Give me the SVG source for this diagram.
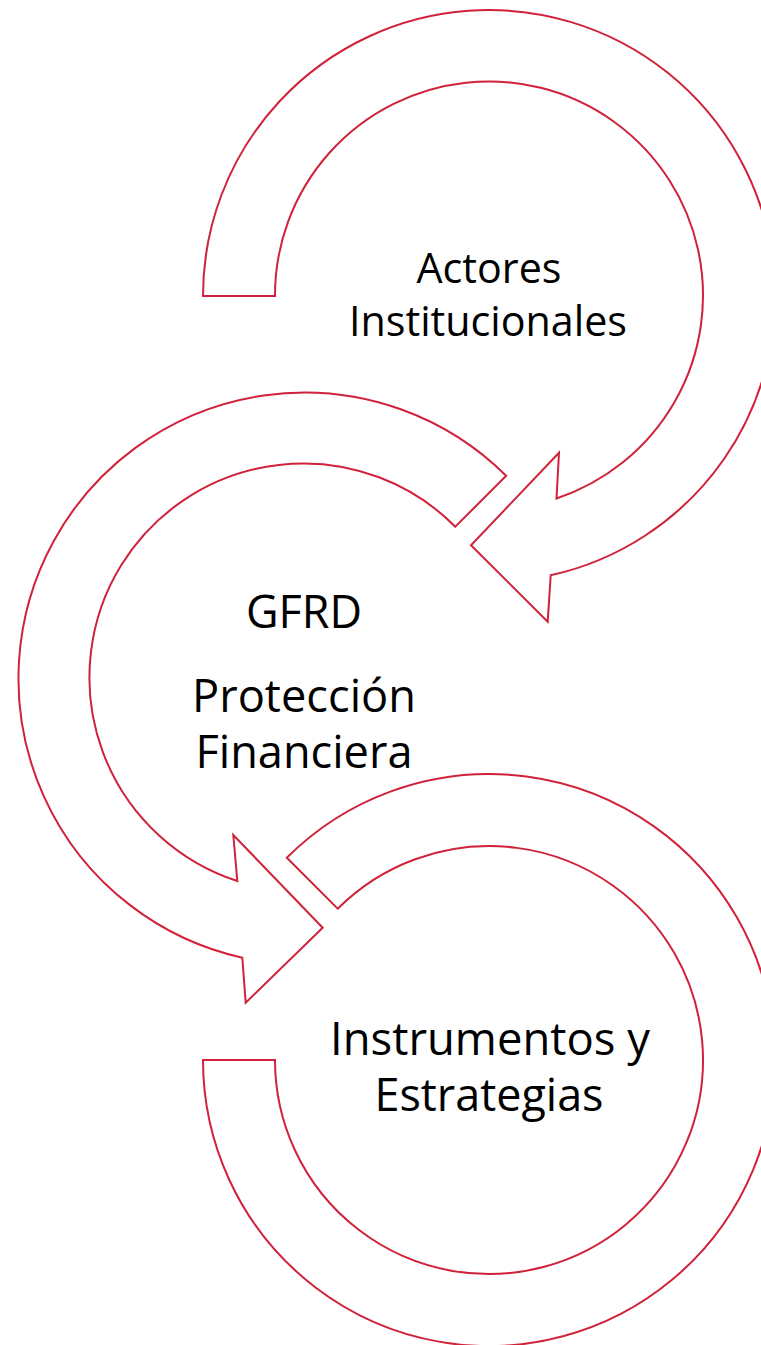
<svg xmlns="http://www.w3.org/2000/svg" width="761" height="1345" viewBox="0 0 761 1345">
  <style>
    .arr { fill: #FFFFFF; stroke: #D0223A; stroke-width: 2; stroke-linejoin: miter; }
    .lbl { font-family: "Open Sans", "Liberation Sans", sans-serif; fill: #000000; text-anchor: middle; }
    .s1 { font-size: 42px; }
    .s2 { font-size: 46px; }
  </style>
  <rect width="761" height="1345" fill="#FFFFFF"/>
  <g id="connectors">
    <path id="arrow-bottom" class="arr" d="M 286.8,857.8 A 286 286 0 1 1 203,1060 L 275,1060 A 214 214 0 1 0 337.7,908.7 Z"/>
    <path id="arrow-middle" class="arr" d="M 506.2,475.8 A 286 286 0 1 0 242.3,957.7 L 245.7,1002.7 L 322.7,927.7 L 233.3,835 L 237.3,881 A 214 214 0 1 1 455.3,526.7 Z"/>
    <path id="arrow-top" class="arr" d="M 203,296 A 286 286 0 1 1 550.7,575.3 L 547.7,621.7 L 471,545.3 L 559,452.7 L 556.5,498.5 A 214 214 0 1 0 275,296 Z"/>
  </g>
  <g id="node-actores">
    <text class="lbl s1" x="489" y="283" textLength="145" lengthAdjust="spacingAndGlyphs">Actores</text>
    <text class="lbl s1" x="488" y="336" textLength="278" lengthAdjust="spacingAndGlyphs">Institucionales</text>
  </g>
  <g id="node-gfrd">
    <text class="lbl s2" x="304" y="628" textLength="116" lengthAdjust="spacingAndGlyphs">GFRD</text>
    <text class="lbl s2" x="304" y="712" textLength="224" lengthAdjust="spacingAndGlyphs">Protección</text>
    <text class="lbl s2" x="304" y="768" textLength="217" lengthAdjust="spacingAndGlyphs">Financiera</text>
  </g>
  <g id="node-instrumentos">
    <text class="lbl s2" x="490" y="1055" textLength="320" lengthAdjust="spacingAndGlyphs">Instrumentos y</text>
    <text class="lbl s2" x="489" y="1111" textLength="229" lengthAdjust="spacingAndGlyphs">Estrategias</text>
  </g>
</svg>
